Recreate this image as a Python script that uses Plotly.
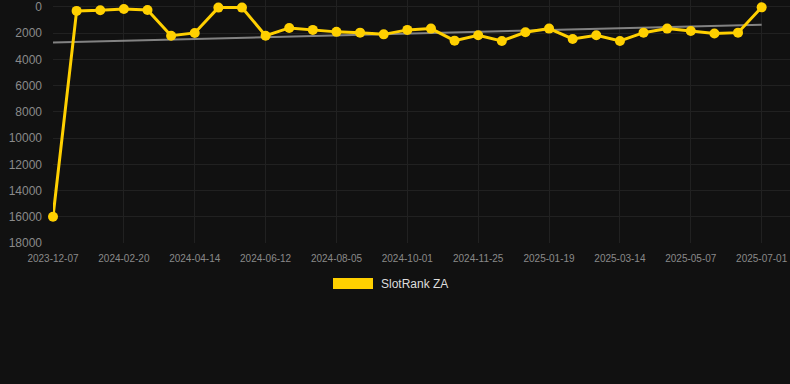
import plotly.graph_objects as go

dates = [
    "2023-12-07", "2024-01-01", "2024-01-26",
    "2024-02-20", "2024-03-09", "2024-03-27",
    "2024-04-14", "2024-05-04", "2024-05-23",
    "2024-06-12", "2024-06-30", "2024-07-18",
    "2024-08-05", "2024-08-24", "2024-09-12",
    "2024-10-01", "2024-10-19", "2024-11-07",
    "2024-11-25", "2024-12-13", "2024-12-31",
    "2025-01-19", "2025-02-06", "2025-02-24",
    "2025-03-14", "2025-04-01", "2025-04-19",
    "2025-05-07", "2025-05-25", "2025-06-12",
    "2025-07-01",
]
rank_za = [
    16000, 300, 250, 150, 230, 2190, 1980, 50, 50, 2190,
    1600, 1750, 1900, 1960, 2090, 1750, 1650, 2570, 2160, 2590,
    1930, 1650, 2440, 2160, 2590, 1960, 1650, 1830, 2030, 1960,
    30,
]
trend_dates = [dates[0], dates[-1]]
trend_values = [2720, 1350]
tick_labels = dates[::3]
y_ticks = [0, 2000, 4000, 6000, 8000, 10000, 12000, 14000, 16000, 18000]
series_name = "SlotRank ZA"

BG = "#111111"
GOLD = "#FFD000"
GRID = "#212121"
TICK = "#8a8a8a"

PLOT_H = 243
PLOT_W = 737
LEFT = 53

fig = go.Figure()
fig.add_trace(go.Scatter(
    x=trend_dates, y=trend_values, mode="lines",
    line=dict(color="rgba(150,150,150,0.85)", width=2),
    showlegend=False, hoverinfo="skip",
))
fig.add_trace(go.Scatter(
    x=dates, y=rank_za, mode="lines+markers", name=series_name,
    line=dict(color=GOLD, width=3),
    marker=dict(color=GOLD, size=10),
    cliponaxis=False, showlegend=False,
))

fig.update_layout(
    width=790, height=384,
    paper_bgcolor=BG, plot_bgcolor=BG,
    margin=dict(l=LEFT, r=0, t=0, b=384 - PLOT_H),
    font=dict(family="Liberation Sans, Arial, sans-serif", color=TICK),
    xaxis=dict(
        type="category", categoryorder="array", categoryarray=dates,
        range=[0, 31.2],
        tickmode="array", tickvals=tick_labels, ticktext=tick_labels,
        tickfont=dict(size=10, color=TICK),
        showgrid=True, gridcolor=GRID, gridwidth=1,
        zeroline=False, showline=False, ticks="", ticklabelstandoff=8,
    ),
    yaxis=dict(
        range=[18000, -530],
        tickmode="array", tickvals=y_ticks, tickformat="d",
        tickfont=dict(size=12, color=TICK),
        showgrid=True, gridcolor=GRID, gridwidth=1,
        zeroline=False, showline=False, ticks="", ticklabelstandoff=10,
    ),
    shapes=[dict(
        type="rect", xref="paper", yref="paper",
        x0=(333 - LEFT) / PLOT_W, x1=(373 - LEFT) / PLOT_W,
        y0=(PLOT_H - 289) / PLOT_H, y1=(PLOT_H - 278) / PLOT_H,
        fillcolor=GOLD, line=dict(width=0),
    )],
    annotations=[dict(
        text=series_name, xref="paper", yref="paper",
        x=(379 - LEFT) / PLOT_W, y=(PLOT_H - 284) / PLOT_H,
        xanchor="left", yanchor="middle", showarrow=False,
        font=dict(size=12, color="#dddddd"),
    )],
)

fig.write_html(
    "out.html",
    config={"displayModeBar": False},
    post_script="document.body.style.margin='0';document.body.style.background='#111111';",
)
